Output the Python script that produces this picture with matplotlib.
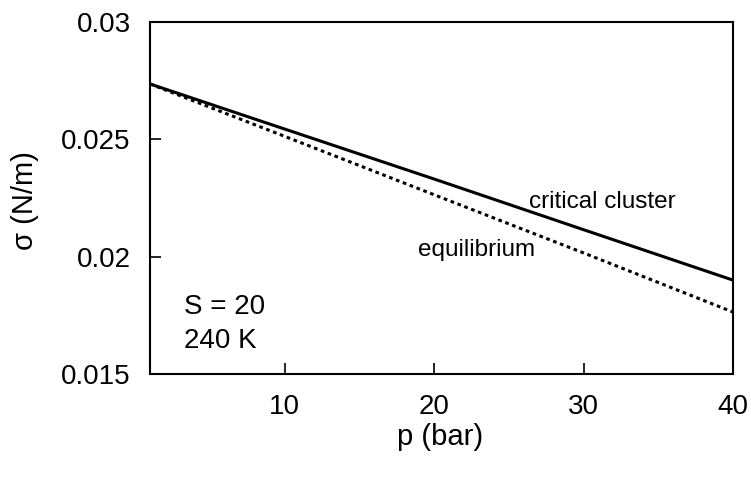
import matplotlib.pyplot as plt

plt.rcParams['font.family'] = ['Liberation Sans', 'DejaVu Sans']

# surface tension vs pressure
p = [1, 10, 20, 30, 40]
sigma_critical = [0.02736, 0.02544, 0.02331, 0.02115, 0.0190]
sigma_equilibrium = [0.02736, 0.02513, 0.02264, 0.02016, 0.01764]

x_ticks = [10, 20, 30, 40]
y_ticks = [0.015, 0.02, 0.025, 0.03]
y_tick_labels = ['0.015', '0.02', '0.025', '0.03']

fig = plt.figure(figsize=(7.51, 4.79), dpi=100)
ax = fig.add_axes([150 / 751, 105 / 479, 583 / 751, 352 / 479])

ax.plot(p, sigma_critical, color='black', linewidth=2.2, solid_capstyle='butt')
ax.plot(p, sigma_equilibrium, color='black', linewidth=2.2, linestyle=(0, (1.2, 1.2)))

ax.set_xlim(1, 40)
ax.set_ylim(0.015, 0.03)
ax.set_xticks(x_ticks)
ax.set_yticks(y_ticks)
ax.set_yticklabels(y_tick_labels)
ax.tick_params(direction='in', length=8, width=1.2, labelsize=20,
               top=False, right=False)
ax.tick_params(axis='x', pad=14.5)
ax.tick_params(axis='y', pad=14)
for s in ax.spines.values():
    s.set_linewidth(1.5)

ax.set_xlabel('p (bar)', fontsize=21, va='center')
ax.set_ylabel('σ (N/m)', fontsize=21, va='center')
ax.xaxis.set_label_coords(0.497, -0.179)
ax.yaxis.set_label_coords(-0.215, 0.494)

ax.text(26.35, 0.02233, 'critical cluster', fontsize=17.5, va='center')
ax.text(18.9, 0.02028, 'equilibrium', fontsize=17.5, va='center')
ax.text(3.3, 0.01713, 'S = 20\n240 K', fontsize=20, va='center', linespacing=1.4)

fig.savefig('out.png', dpi=100)
